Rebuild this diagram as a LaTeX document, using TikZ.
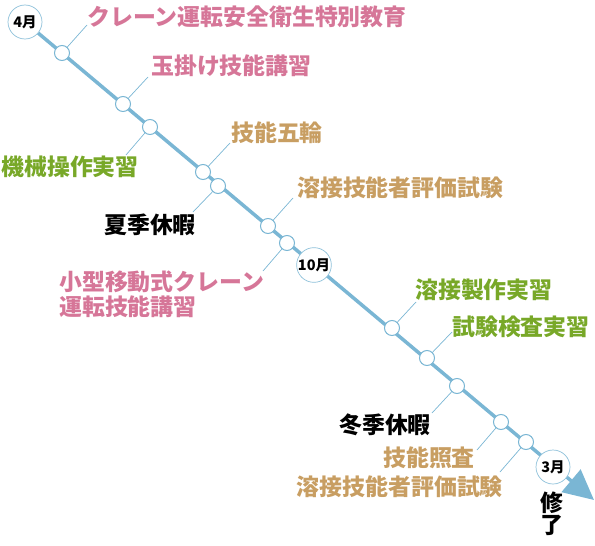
\documentclass[tikz,border=0pt]{standalone}
\usepackage{fontspec}
\newfontfamily\jp{Noto Sans CJK JP}
\usetikzlibrary{arrows.meta,backgrounds}
\definecolor{lineblue}{RGB}{122,182,212}
\definecolor{pinklbl}{RGB}{214,118,152}
\definecolor{goldlbl}{RGB}{200,158,98}
\definecolor{greenlbl}{RGB}{120,168,40}

\begin{document}
\begin{tikzpicture}[x=1pt,y=-1pt,
  dot/.style={circle,draw=lineblue,fill=white,line width=1pt,minimum size=15pt,inner sep=0pt},
  month/.style={circle,draw=lineblue!85,fill=white,line width=0.7pt,minimum size=34pt,inner sep=0pt,font=\jp\bfseries\fontsize{14.5}{14.5}\selectfont},
  leader/.style={draw=lineblue,line width=0.7pt},
  lbl/.style={inner sep=0pt,font=\jp\bfseries\fontsize{22.9}{25}\selectfont}]
\useasboundingbox (0,0) rectangle (595,546);
% months
\node[month] (m4) at (25,22) {4月};
\node[month,minimum size=32pt] (m10) at (314,265) {10月};
\node[month] (m3) at (553,467) {3月};
\coordinate (tip) at (594,500);
% events on the line
\node[dot] (p1) at (62,53) {};   \node[dot] (p2) at (123,104) {};
\node[dot] (p3) at (150,127) {}; \node[dot] (p4) at (203,172) {};
\node[dot] (p5) at (218,186) {}; \node[dot] (p6) at (268,226) {};
\node[dot] (p7) at (287,243) {}; \node[dot] (p8) at (392,328) {};
\node[dot] (p9) at (427,358) {}; \node[dot] (p10) at (457,386) {};
\node[dot] (p11) at (501,422) {}; \node[dot] (p12) at (526,442) {};
\begin{pgfonlayer}{background}
  \draw[lineblue,line width=3.5pt,-{Triangle[length=30pt,width=29pt]}] (m4) -- (tip);
\end{pgfonlayer}
% leader ends
\coordinate (q1) at (87,25);   \coordinate (q2) at (148,77);
\coordinate (q3) at (126,155); \coordinate (q4) at (230,143);
\coordinate (q5) at (193,212); \coordinate (q6) at (293,198);
\coordinate (q7) at (263,271); \coordinate (q8) at (416,302);
\coordinate (q9) at (452,332); \coordinate (q10) at (432,413);
\coordinate (q11) at (477,450); \coordinate (q12) at (500,472);
\foreach \i in {1,...,12} \draw[leader] (p\i) -- (q\i);
% labels
\node[lbl,pinklbl,anchor=west] (t1) at (87,17) {クレーン運転安全衛生特別教育};
\node[lbl,pinklbl,anchor=west] (t2) at (151,66) {玉掛け技能講習};
\node[lbl,greenlbl,anchor=east] (t3) at (139,167) {機械操作実習};
\node[lbl,goldlbl,anchor=west] (t4) at (231,133) {技能五輪};
\node[lbl,anchor=east] (t5) at (196,225) {夏季休暇};
\node[lbl,goldlbl,anchor=west] (t6) at (297,188) {溶接技能者評価試験};
\node[lbl,pinklbl,anchor=west,align=left] (t7) at (59,294) {小型移動式クレーン\\運転技能講習};
\node[lbl,greenlbl,anchor=west] (t8) at (415,290) {溶接製作実習};
\node[lbl,greenlbl,anchor=west] (t9) at (452,327) {試験検査実習};
\node[lbl,anchor=east] (t10) at (431,425) {冬季休暇};
\node[lbl,goldlbl,anchor=east] (t11) at (475,458) {技能照査};
\node[lbl,goldlbl,anchor=east] (t12) at (503,487) {溶接技能者評価試験};
\node[lbl,align=center,font=\jp\bfseries\fontsize{22.9}{22}\selectfont] (done) at (552,514) {修\\了};
\end{tikzpicture}
\end{document}
